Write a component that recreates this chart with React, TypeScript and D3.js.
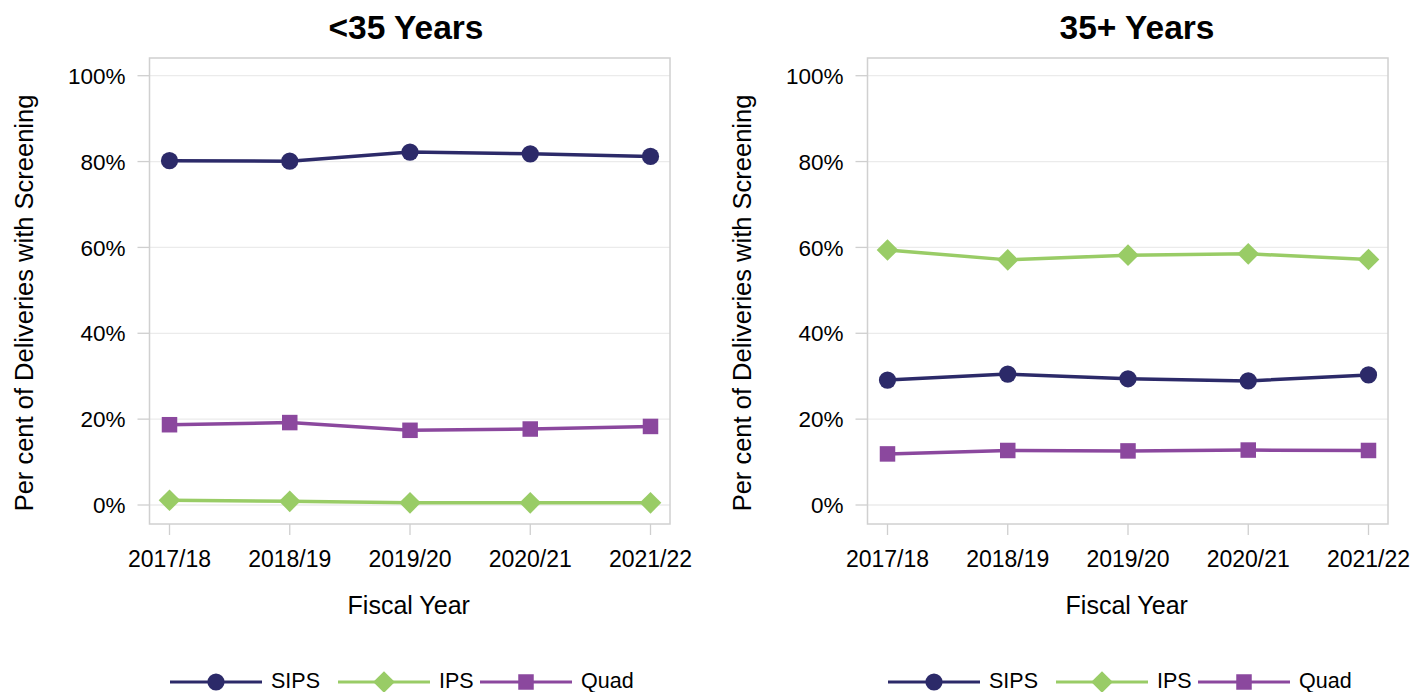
import React from "react";
import * as d3 from "d3";

const years = ["2017/18", "2018/19", "2019/20", "2020/21", "2021/22"];
const seriesNames = ["SIPS", "IPS", "Quad"];
const panelTitles = ["<35 Years", "35+ Years"];
const yTicks = [0, 20, 40, 60, 80, 100];

const under35SIPS = [80.2, 80.1, 82.2, 81.8, 81.2];
const under35IPS = [1.1, 0.85, 0.5, 0.5, 0.5];
const under35Quad = [18.7, 19.2, 17.4, 17.7, 18.3];

const over35SIPS = [29.1, 30.5, 29.4, 28.9, 30.3];
const over35IPS = [59.4, 57.1, 58.2, 58.5, 57.2];
const over35Quad = [11.9, 12.7, 12.6, 12.8, 12.7];

const colors: Record<string, string> = {
  SIPS: "#2c2a69",
  IPS: "#99cc66",
  Quad: "#8b489e",
};

const panels = [
  { title: panelTitles[0], titleX: 406, data: { SIPS: under35SIPS, IPS: under35IPS, Quad: under35Quad } },
  { title: panelTitles[1], titleX: 1137, data: { SIPS: over35SIPS, IPS: over35IPS, Quad: over35Quad } },
];

const FONT = "'Liberation Sans', Arial, Helvetica, sans-serif";

function Marker({ name, x, y }: { name: string; x: number; y: number }) {
  const c = colors[name];
  if (name === "SIPS") return <circle cx={x} cy={y} r={8.6} fill={c} />;
  if (name === "IPS") {
    const h = 10.8;
    return <path d={`M${x},${y - h}L${x + h},${y}L${x},${y + h}L${x - h},${y}Z`} fill={c} />;
  }
  const s = 15.5;
  return <rect x={x - s / 2} y={y - s / 2} width={s} height={s} fill={c} />;
}

function Panel({ offset, title, titleX, data }: { offset: number; title: string; titleX: number; data: Record<string, number[]> }) {
  const frameL = 149.5 + offset;
  const frameR = 670 + offset;
  const frameT = 58;
  const frameB = 524;
  const x = d3.scalePoint<string>().domain(years).range([frameL + 20, frameR - 19.5]);
  const y = d3.scaleLinear().domain([0, 100]).range([505, 75.7]);
  const line = d3
    .line<number>()
    .x((_, i) => x(years[i]) as number)
    .y((v) => y(v));
  const cx = (frameL + frameR) / 2;

  const legendStarts = [170, 338, 480];

  return (
    <g fontFamily={FONT}>
      <text x={titleX} y={38.5} textAnchor="middle" fontWeight="bold" fontSize={33.5} fill="#000">
        {title}
      </text>
      {yTicks.map((t) => (
        <g key={t}>
          <line x1={frameL} x2={frameR} y1={y(t)} y2={y(t)} stroke="#ebebeb" strokeWidth={1.3} />
          <line x1={frameL - 12} x2={frameL} y1={y(t)} y2={y(t)} stroke="#cfcfcf" strokeWidth={1.3} />
          <text x={frameL - 24} y={y(t)} dy="0.36em" textAnchor="end" fontSize={22.5} fill="#000">
            {t}%
          </text>
        </g>
      ))}
      <rect x={frameL} y={frameT} width={frameR - frameL} height={frameB - frameT} fill="none" stroke="#d0d0d0" strokeWidth={1.5} />
      {years.map((yr) => (
        <g key={yr}>
          <line x1={x(yr)} x2={x(yr)} y1={frameB} y2={frameB + 11} stroke="#cfcfcf" strokeWidth={1.3} />
          <text x={x(yr)} y={567} textAnchor="middle" fontSize={23} fill="#000">
            {yr}
          </text>
        </g>
      ))}
      <text x={cx - 1} y={614} textAnchor="middle" fontSize={25} fill="#000">
        Fiscal Year
      </text>
      <text
        transform={`translate(${33 + offset},${303}) rotate(-90)`}
        textAnchor="middle"
        fontSize={25.5}
        fill="#000"
      >
        Per cent of Deliveries with Screening
      </text>
      {seriesNames.map((name) => (
        <g key={name}>
          <path d={line(data[name]) as string} fill="none" stroke={colors[name]} strokeWidth={3.5} strokeLinejoin="round" />
          {data[name].map((v, i) => (
            <Marker key={i} name={name} x={x(years[i]) as number} y={y(v)} />
          ))}
        </g>
      ))}
      {seriesNames.map((name, i) => {
        const lx = legendStarts[i] + offset;
        return (
          <g key={name}>
            <line x1={lx} x2={lx + 92} y1={682} y2={682} stroke={colors[name]} strokeWidth={3} />
            <Marker name={name} x={lx + 46} y={682} />
            <text x={lx + 101} y={688} fontSize={21.5} fill="#000">
              {name}
            </text>
          </g>
        );
      })}
    </g>
  );
}

export default function App() {
  return (
    <svg width={1422} height={692} style={{ position: "absolute", left: 0, top: 0, background: "#fff" }}>
      <rect width={1422} height={692} fill="#fff" />
      {panels.map((p, i) => (
        <Panel key={i} offset={i * 718} title={p.title} titleX={p.titleX} data={p.data} />
      ))}
    </svg>
  );
}
